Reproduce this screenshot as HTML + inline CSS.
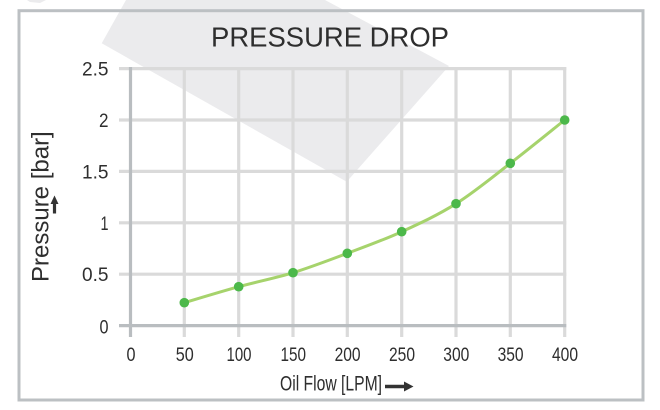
<!DOCTYPE html>
<html>
<head>
<meta charset="utf-8">
<style>
html,body{margin:0;padding:0;background:#fff;}
svg{display:block;}
text{font-family:"Liberation Sans",Arial,sans-serif;fill:#2e2e2e;}
</style>
</head>
<body>
<svg width="660" height="410" viewBox="0 0 660 410" xmlns="http://www.w3.org/2000/svg">
  <rect width="660" height="410" fill="#fff"/>
  <!-- watermark -->
  <polygon points="126,0 101.7,43.3 346.7,181.7 449,66 325,0" fill="#ebebed"/>
  <polygon points="27,0 46,0 40,3 30,2" fill="#ebebed"/>
  <!-- frame -->
  <rect x="19" y="10.7" width="624" height="389.3" fill="none" stroke="#bcc0c3" stroke-width="3"/>

  <!-- grid vertical -->
  <g stroke="#dadada" stroke-width="3.2">
    <line x1="184.3" y1="67" x2="184.3" y2="337"/>
    <line x1="238.7" y1="67" x2="238.7" y2="337"/>
    <line x1="293" y1="67" x2="293" y2="337"/>
    <line x1="347.3" y1="67" x2="347.3" y2="337"/>
    <line x1="401.7" y1="67" x2="401.7" y2="337"/>
    <line x1="456" y1="67" x2="456" y2="337"/>
    <line x1="510.3" y1="67" x2="510.3" y2="337"/>
    <line x1="564.7" y1="67" x2="564.7" y2="337"/>
  </g>
  <!-- grid horizontal -->
  <g stroke="#dadada" stroke-width="3.2">
    <line x1="119" y1="68.6" x2="566.3" y2="68.6"/>
    <line x1="119" y1="120" x2="566.3" y2="120"/>
    <line x1="119" y1="171.4" x2="566.3" y2="171.4"/>
    <line x1="119" y1="222.8" x2="566.3" y2="222.8"/>
    <line x1="119" y1="274.2" x2="566.3" y2="274.2"/>
  </g>
  <!-- axes -->
  <line x1="119" y1="325.6" x2="566.3" y2="325.6" stroke="#b9bdc0" stroke-width="3.2"/>
  <line x1="130.5" y1="67" x2="130.5" y2="337" stroke="#b9bdc0" stroke-width="3.2"/>

  <!-- title -->
  <text x="211" y="46.7" font-size="28" textLength="238" lengthAdjust="spacingAndGlyphs" fill="#363636">PRESSURE DROP</text>

  <!-- y tick labels -->
  <g font-size="19" text-anchor="end">
    <text x="108.5" y="75.6" textLength="26.5" lengthAdjust="spacingAndGlyphs">2.5</text>
    <text x="108.5" y="127" textLength="9.5" lengthAdjust="spacingAndGlyphs">2</text>
    <text x="108.5" y="178.4" textLength="26.5" lengthAdjust="spacingAndGlyphs">1.5</text>
    <text x="108.5" y="229.8" textLength="8" lengthAdjust="spacingAndGlyphs">1</text>
    <text x="108.5" y="281.2" textLength="26.5" lengthAdjust="spacingAndGlyphs">0.5</text>
    <text x="108.5" y="333.6" textLength="9" lengthAdjust="spacingAndGlyphs">0</text>
  </g>
  <!-- x tick labels -->
  <g font-size="19" text-anchor="middle">
    <text x="131" y="361" textLength="9" lengthAdjust="spacingAndGlyphs">0</text>
    <text x="184.8" y="361" textLength="18" lengthAdjust="spacingAndGlyphs">50</text>
    <text x="239" y="361" textLength="25" lengthAdjust="spacingAndGlyphs">100</text>
    <text x="293.3" y="361" textLength="25.5" lengthAdjust="spacingAndGlyphs">150</text>
    <text x="347.6" y="361" textLength="26" lengthAdjust="spacingAndGlyphs">200</text>
    <text x="402" y="361" textLength="26" lengthAdjust="spacingAndGlyphs">250</text>
    <text x="456.3" y="361" textLength="26" lengthAdjust="spacingAndGlyphs">300</text>
    <text x="510.6" y="361" textLength="26" lengthAdjust="spacingAndGlyphs">350</text>
    <text x="565" y="361" textLength="26" lengthAdjust="spacingAndGlyphs">400</text>
  </g>

  <!-- x axis label -->
  <text x="280" y="390.5" font-size="21" textLength="102" lengthAdjust="spacingAndGlyphs">Oil Flow [LPM]</text>
  <line x1="385" y1="386.5" x2="406" y2="386.5" stroke="#333" stroke-width="3.6"/>
  <polygon points="404,381.5 413.5,386.5 404,391.5" fill="#333"/>

  <!-- y axis label -->
  <text transform="translate(48.5,282) rotate(-90)" x="0" y="0" font-size="24">Pressure [bar]</text>
  <line x1="54.5" y1="213.5" x2="54.5" y2="202" stroke="#333" stroke-width="3.2"/>
  <polygon points="50.5,204 54.5,195.5 58.5,204" fill="#333"/>

  <!-- series line -->
  <path d="M184.3,302.7 C193.4,300.0 220.6,291.7 238.7,286.7 C256.8,281.7 274.9,278.3 293,272.7 C311.1,267.1 329.2,260.1 347.3,253.3 C365.4,246.5 383.6,240.0 401.7,231.7 C419.8,223.4 437.9,215.1 456,203.7 C474.1,192.3 492.2,177.3 510.3,163.3 C528.4,149.4 555.6,127.2 564.7,120" fill="none" stroke="#a6d36c" stroke-width="3"/>
  <!-- dots -->
  <g fill="#4cb84a">
    <circle cx="184.3" cy="302.7" r="4.8"/>
    <circle cx="238.7" cy="286.7" r="4.8"/>
    <circle cx="293" cy="272.7" r="4.8"/>
    <circle cx="347.3" cy="253.3" r="4.8"/>
    <circle cx="401.7" cy="231.7" r="4.8"/>
    <circle cx="456" cy="203.7" r="4.8"/>
    <circle cx="510.3" cy="163.3" r="4.8"/>
    <circle cx="564.7" cy="120" r="4.8"/>
  </g>
</svg>
</body>
</html>
